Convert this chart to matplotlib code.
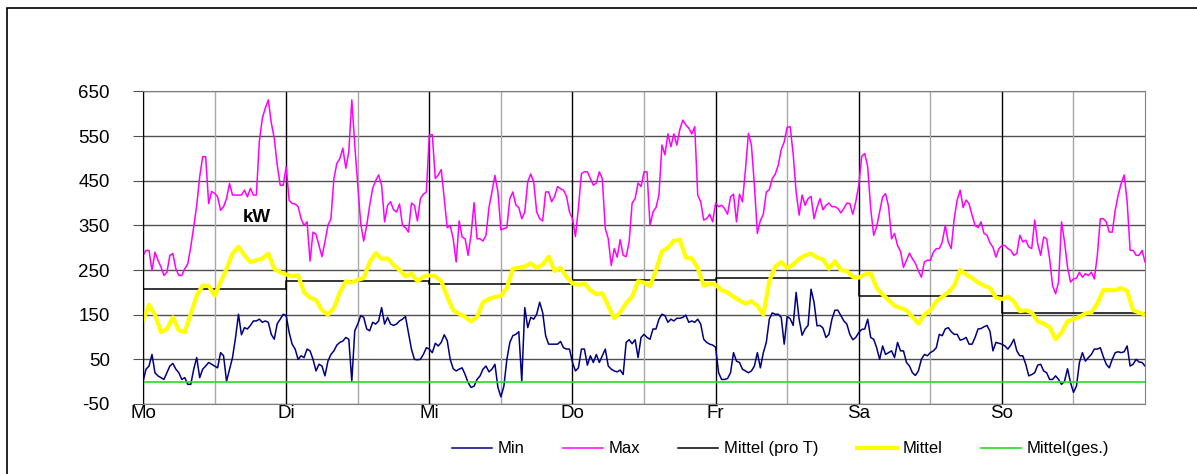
import numpy as np
import matplotlib
matplotlib.use("Agg")
from matplotlib import pyplot as plt
from matplotlib.patches import Rectangle

plt.rcParams['font.family'] = ['Liberation Sans', 'DejaVu Sans']
plt.rcParams['axes.unicode_minus'] = False

# Tagesnamen (Marke am Tagesbeginn)
days = ["Mo", "Di", "Mi", "Do", "Fr", "Sa", "So"]

# Min / Max in kW, halbstuendlich (48 pro Tag), So mit Endwert
min_mo = [1, 28, 35, 61, 20, 13, 9, 5, 20, 35, 41, 28, 20, 5, 9, -6, -6, 28, 54, 9, 28, 35, 43, 39,
          35, 31, 65, 58, 1, 28, 54, 98, 151, 105, 121, 118, 126, 136, 136, 140, 133, 136, 133, 106, 95, 130, 140, 151]
min_di = [148, 110, 84, 73, 50, 58, 54, 73, 69, 50, 24, 39, 35, 13, 46, 61, 69, 82, 88, 91, 99, 95, 1, 114,
          129, 148, 144, 118, 114, 133, 129, 136, 166, 129, 144, 129, 126, 129, 136, 140, 146, 110, 73, 50, 49, 50, 61, 76]
min_mi = [73, 65, 86, 80, 88, 105, 92, 50, 29, 24, 28, 31, 16, -2, -13, -10, 5, 13, 28, 35, 22, 28, 39, -13,
          -34, -10, 50, 88, 103, 106, 112, 1, 166, 121, 144, 140, 151, 178, 155, 103, 84, 84, 84, 84, 90, 76, 73, 73]
min_do = [43, 24, 31, 73, 73, 37, 58, 43, 61, 43, 58, 73, 35, 28, 24, 22, 26, 16, 88, 94, 85, 94, 54, 99,
          106, 99, 95, 118, 118, 140, 151, 148, 133, 140, 136, 142, 142, 144, 149, 133, 136, 133, 140, 129, 95, 88, 84, 82]
min_fr = [77, 20, 5, 5, 7, 20, 65, 46, 43, 28, 24, 20, 24, 35, 65, 31, 65, 88, 140, 154, 151, 151, 144, 84,
          146, 141, 126, 200, 140, 104, 118, 126, 207, 178, 125, 126, 120, 99, 106, 140, 160, 160, 148, 136, 129, 106, 94, 99]
min_sa = [110, 117, 118, 140, 99, 95, 76, 50, 80, 61, 65, 69, 54, 88, 69, 69, 43, 35, 20, 14, 24, 50, 61, 58,
          65, 69, 76, 106, 103, 118, 121, 112, 106, 106, 93, 95, 99, 84, 84, 99, 118, 119, 123, 126, 113, 69, 88, 86]
min_so = [84, 80, 73, 82, 95, 69, 58, 58, 39, 13, 16, 20, 37, 39, 24, 20, 5, 5, 13, 5, -6, 1, 29, -2,
          -24, -10, 43, 65, 46, 54, 61, 73, 73, 76, 56, 39, 31, 50, 65, 67, 65, 67, 80, 35, 39, 50, 44, 43, 35]

max_mo = [283, 294, 294, 249, 290, 272, 257, 238, 245, 283, 287, 253, 238, 238, 253, 264, 302, 347, 395, 459, 504, 504, 399, 426,
          422, 414, 384, 392, 410, 444, 418, 418, 418, 418, 429, 414, 433, 418, 418, 538, 590, 613, 631, 580, 545, 485, 440, 440]
max_di = [481, 406, 399, 398, 392, 365, 350, 358, 270, 335, 330, 305, 280, 313, 350, 365, 455, 489, 500, 523, 478, 515, 631, 530,
          440, 354, 315, 350, 395, 433, 450, 463, 440, 358, 395, 403, 385, 380, 398, 350, 345, 335, 400, 395, 360, 410, 420, 425]
max_mi = [553, 553, 455, 463, 475, 410, 345, 350, 320, 268, 360, 324, 320, 283, 330, 401, 320, 320, 315, 328, 390, 425, 462, 425,
          340, 343, 345, 410, 425, 396, 390, 365, 380, 448, 465, 448, 380, 365, 360, 425, 425, 403, 415, 437, 432, 429, 415, 380]
max_do = [365, 325, 390, 466, 470, 470, 455, 440, 445, 470, 455, 343, 320, 260, 298, 279, 318, 283, 280, 313, 400, 410, 445, 437,
          470, 470, 350, 380, 390, 418, 530, 508, 555, 526, 555, 530, 565, 586, 575, 568, 555, 571, 418, 403, 362, 365, 375, 358]
max_fr = [400, 392, 395, 388, 375, 414, 420, 358, 420, 403, 475, 556, 530, 440, 332, 361, 375, 425, 430, 455, 465, 485, 520, 537,
          570, 571, 510, 425, 373, 418, 395, 410, 415, 365, 390, 410, 385, 395, 400, 392, 392, 388, 378, 388, 400, 399, 375, 403]
max_sa = [440, 505, 511, 481, 388, 328, 347, 381, 414, 421, 392, 320, 332, 305, 292, 256, 272, 288, 275, 265, 248, 234, 268, 272,
          272, 290, 298, 298, 313, 350, 313, 298, 365, 407, 429, 390, 407, 398, 373, 350, 345, 358, 332, 328, 311, 301, 279, 298]
max_so = [305, 305, 298, 294, 283, 287, 328, 313, 317, 302, 298, 362, 309, 283, 324, 320, 275, 215, 197, 223, 358, 313, 257, 223,
          230, 232, 245, 234, 242, 238, 245, 230, 283, 365, 365, 358, 335, 335, 384, 418, 444, 463, 403, 294, 294, 283, 283, 294, 268]

# Mittel in kW, stuendlich (24 pro Tag), So mit Endwert
avg_mo = [137, 172, 150, 111, 118, 144, 115, 111, 152, 193, 215, 215, 193, 223, 253, 287, 302, 283, 268, 272, 276, 287, 253, 245]
avg_di = [240, 236, 238, 200, 188, 183, 160, 150, 165, 200, 225, 222, 228, 232, 268, 288, 275, 276, 262, 250, 236, 242, 225, 235]
avg_mi = [238, 236, 225, 190, 160, 152, 145, 135, 145, 178, 185, 190, 192, 210, 253, 255, 258, 265, 255, 262, 280, 248, 255, 235]
avg_do = [220, 217, 220, 205, 196, 198, 170, 142, 155, 176, 190, 225, 222, 214, 250, 292, 300, 316, 318, 278, 276, 255, 215, 220]
avg_fr = [217, 205, 200, 190, 182, 175, 180, 170, 150, 225, 258, 268, 255, 262, 275, 283, 287, 278, 274, 253, 270, 250, 248, 235]
avg_sa = [233, 240, 243, 210, 195, 183, 170, 165, 160, 145, 130, 150, 160, 180, 190, 200, 215, 250, 240, 232, 222, 215, 210, 188]
avg_so = [185, 190, 180, 158, 160, 155, 135, 130, 122, 95, 110, 135, 140, 145, 153, 155, 175, 205, 205, 205, 210, 203, 160, 155, 150]

# Tagesmittel und Gesamtmittel
day_means = [207, 225, 218, 228, 233, 193, 154]
mittel_ges = 0

v_min = np.array(min_mo + min_di + min_mi + min_do + min_fr + min_sa + min_so)
v_max = np.array(max_mo + max_di + max_mi + max_do + max_fr + max_sa + max_so)
v_avg = np.array(avg_mo + avg_di + avg_mi + avg_do + avg_fr + avg_sa + avg_so)
t_half = np.arange(len(v_min)) * 0.5
t_hour = np.arange(len(v_avg))

fig = plt.figure(figsize=(11.97, 4.74), dpi=100)
ax = fig.add_axes([0.1195, 0.1477, 0.8371, 0.6593])

# Gitter
for y in range(-50, 651, 100):
    ax.axhline(y, color='#505050', lw=1.0, zorder=0)
for d in range(7):
    ax.axvline(d * 24, color='black', lw=1.0, zorder=0)
    ax.axvline(d * 24 + 12, color='#a8a8a8', lw=1.0, zorder=0)

ax.plot(t_half, v_min, color='#000080', lw=1.1, label='Min')
ax.plot(t_half, v_max, color='#ff00ff', lw=1.1, label='Max')
step_x = [d * 24 for d in range(8)]
step_y = day_means + [day_means[-1]]
ax.plot(step_x, step_y, color='black', lw=1.1, drawstyle='steps-post', label='Mittel (pro T)')
ax.plot(t_hour, v_avg, color='#ffff00', lw=3.0, label='Mittel')
ax.plot(t_hour, [mittel_ges] * len(t_hour), color='#22dd22', lw=1.2, label='Mittel(ges.)')

ax.set_xlim(0, 168)
ax.set_ylim(-50, 650)
ax.set_yticks(range(-50, 651, 100))
ax.set_xticks(step_x[:-1])
ax.set_xticklabels(days)
ax.tick_params(axis='y', length=7, color='#505050', pad=17, labelsize=13.5)
ax.tick_params(axis='x', length=0, pad=1, labelsize=13.5)
for s in ['top', 'right', 'bottom']:
    ax.spines[s].set_color('#808080')
ax.spines['left'].set_color('black')

ax.text(19.1, 368, 'kW', fontsize=13.5, fontweight='bold', ha='center', va='center')

fig.legend(loc='center', bbox_to_anchor=(0.652, 0.053), ncol=5, frameon=False,
           fontsize=12, handlelength=2.4, handletextpad=0.35, columnspacing=2.3)

# Rahmen um das Diagramm
fig.patches.append(Rectangle((7 / 1197, -0.1), 1.1, 1.1 - 8 / 474, transform=fig.transFigure,
                             fill=False, edgecolor='black', lw=1.2))

fig.savefig('out.png', dpi=100)
